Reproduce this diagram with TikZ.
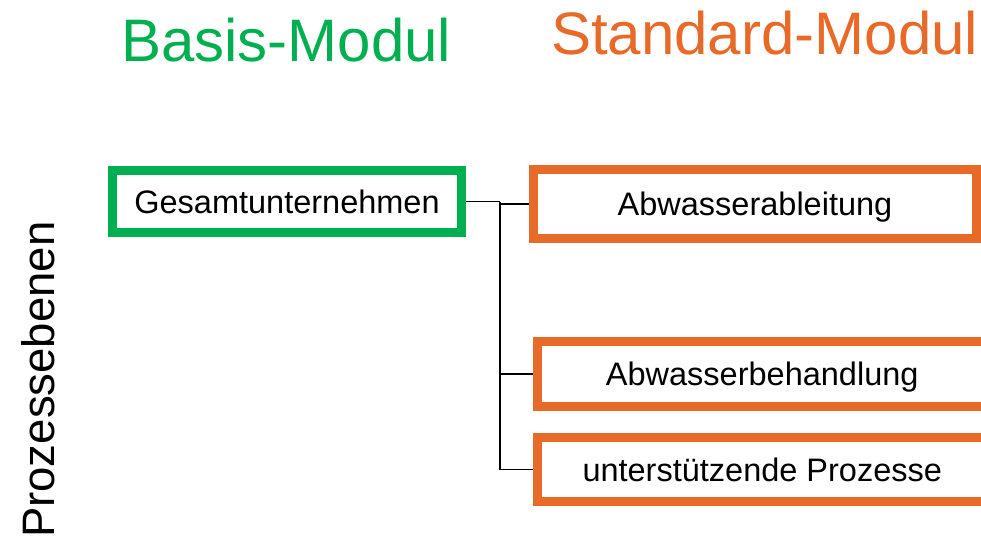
\documentclass[tikz,border=0pt]{standalone}
\usepackage{fontspec}
\setmainfont{Liberation Sans}
\usetikzlibrary{backgrounds}
\definecolor{basisgreen}{RGB}{0,176,80}
\definecolor{stdorange}{RGB}{232,106,40}
\begin{document}
\begin{tikzpicture}[x=1pt,y=-1pt,
  box/.style={draw, line width=9pt, inner sep=0pt, font=\fontsize{32.5}{34}\selectfont, text height=23pt, text depth=0pt},
  gbox/.style={box, draw=basisgreen},
  obox/.style={box, draw=stdorange},
  title/.style={inner sep=0pt, anchor=base west, font=\fontsize{60}{62}\selectfont},
  conn/.style={draw=black, line width=1.8pt}]
\useasboundingbox (0,0) rectangle (981,540);
\node[title, text=basisgreen] (tbasis) at (121,62) {Basis-Modul};
\node[title, text=stdorange] (tstd) at (551,54.5) {Standard-Modul};
\node[inner sep=0pt, anchor=base west, rotate=90, font=\fontsize{45.5}{47}\selectfont] (ebenen) at (54,538) {Prozessebenen};
\node[gbox, minimum width=349pt, minimum height=62pt] (green) at (287,201.5) {Gesamtunternehmen};
\node[obox, minimum width=443pt, minimum height=69pt] (box1) at (755,204) {Abwasserableitung};
\node[obox, minimum width=449.5pt, minimum height=65pt] (box2) at (762.25,374) {Abwasserbehandlung};
\node[obox, minimum width=449.5pt, minimum height=64pt] (box3) at (762.25,469.5) {unterstützende Prozesse};
\coordinate (jx) at (500,202);
\begin{scope}[on background layer]
\draw[conn] (green.east) -- (green.east -| jx);
\draw[conn] (box1.west -| jx) -- (box1.west);
\draw[conn] (jx) -- (box3.west -| jx);
\draw[conn] (box2.west -| jx) -- (box2.west);
\draw[conn] (box3.west -| jx) -- (box3.west);
\end{scope}
\end{tikzpicture}
\end{document}
